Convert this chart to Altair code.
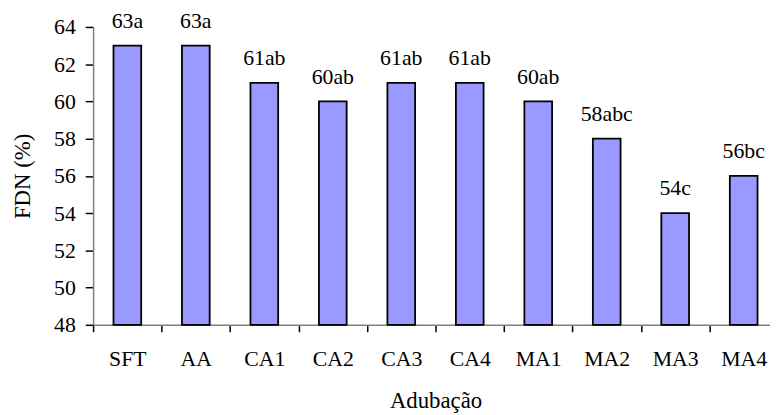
import altair as alt
import pandas as pd

categories = ["SFT", "AA", "CA1", "CA2", "CA3", "CA4", "MA1", "MA2", "MA3", "MA4"]
values = [63, 63, 61, 60, 61, 61, 60, 58, 54, 56]
letters = ["a", "a", "ab", "ab", "ab", "ab", "ab", "abc", "c", "bc"]
y_ticks = [48, 50, 52, 54, 56, 58, 60, 62, 64]

df = pd.DataFrame({
    "cat": categories,
    "val": values,
    "lab": [f"{v}{l}" for v, l in zip(values, letters)],
})

FONT = "Liberation Serif, Times New Roman, serif"

x_scale = alt.Scale(range=[0, 692], paddingInner=0, paddingOuter=0)
y_scale = alt.Scale(domain=[48, 64], nice=False, zero=False)

x_axis = alt.Axis(
    title="Adubação",
    labelAngle=0,
    tickBand="extent",
    tickSize=7,
    tickColor="black",
    tickWidth=1.5,
    domainColor="#808080",
    domainWidth=1.5,
    labelFont=FONT,
    labelFontSize=22,
    labelColor="black",
    labelPadding=17,
    labelOverlap=False,
    titleFont=FONT,
    titleFontSize=23,
    titleFontWeight="normal",
    titleColor="black",
    titlePadding=21,
    grid=False,
)

y_axis = alt.Axis(
    title="FDN (%)",
    values=y_ticks,
    tickSize=8,
    tickColor="black",
    tickWidth=1.5,
    domainColor="#808080",
    domainWidth=1.5,
    labelFont=FONT,
    labelFontSize=22,
    labelColor="black",
    labelPadding=10,
    labelOverlap=False,
    titleFont=FONT,
    titleFontSize=23,
    titleFontWeight="normal",
    titleColor="black",
    titlePadding=19,
    grid=False,
)

x_enc = alt.X("cat:N", sort=categories, scale=x_scale, axis=x_axis)
y_enc = alt.Y("val:Q", scale=y_scale, axis=y_axis)

bars = alt.Chart(df).mark_bar(
    size=28, color="#9999FF", stroke="black", strokeWidth=1.8
).encode(x=x_enc, y=y_enc, y2=alt.datum(48))

text = alt.Chart(df).mark_text(
    font=FONT, fontSize=22, color="black", baseline="alphabetic", dy=-18
).encode(x=x_enc, y=y_enc, text="lab:N")

chart = (
    alt.layer(bars, text)
    .properties(
        width=684,
        height=301,
        autosize=alt.AutoSizeParams(type="none"),
        padding={"left": 86, "top": 17, "right": 0, "bottom": 90},
    )
    .configure_view(stroke=None)
)

chart.save("out.html", embed_options={"renderer": "svg", "actions": False})
